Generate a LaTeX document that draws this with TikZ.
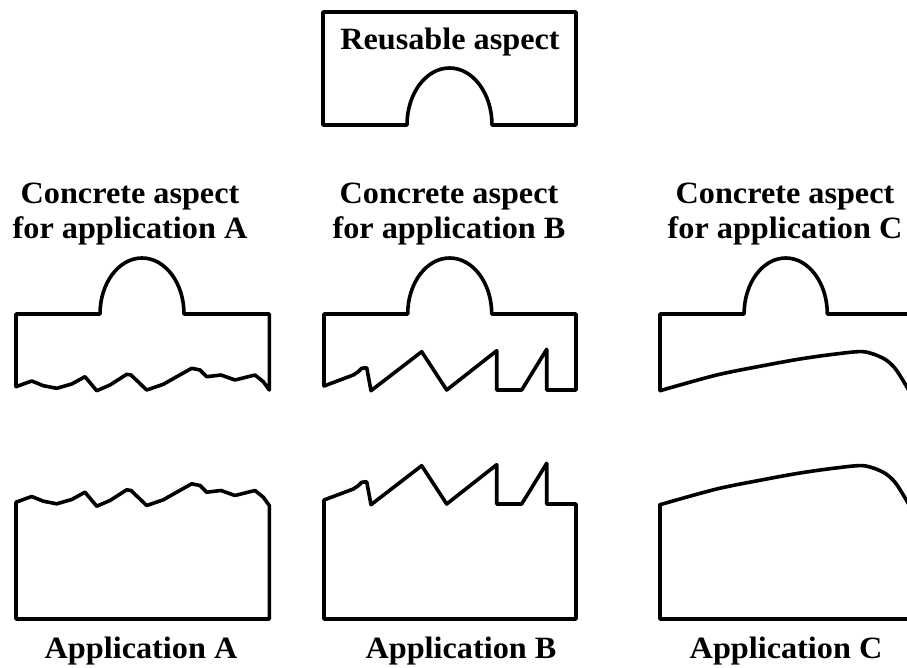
\documentclass[tikz,border=0pt]{standalone}
\usepackage{fontspec}
\setmainfont{Liberation Serif}[FakeStretch=1.04]
\tikzset{
  shape line/.style={line width=3.6pt, line join=round, line cap=round},
  lbl/.style={font=\fontsize{31}{36}\selectfont\bfseries, anchor=base, inner sep=0pt}
}
% wavy bottom edge of aspect A (argument: vertical offset)
\newcommand\wavA[1]{(16,386.7+#1) -- (31.7,381+#1) -- (43.3,385.7+#1) -- (56.7,388.3+#1) -- (71.7,384+#1) -- (85,376.7+#1) -- (96.7,390.7+#1) -- (110,385+#1) -- (126.7,374.3+#1) -- (131,375+#1) -- (146.7,390+#1) -- (163.3,384.3+#1) -- (176.7,376.7+#1) -- (191.7,368.3+#1) -- (200,370+#1) -- (206.7,376.7+#1) -- (221,375+#1) -- (235,380+#1) -- (255,375+#1) -- (263.3,381.7+#1) -- (269.3,390+#1)}
% saw-tooth bottom edge of aspect B
\newcommand\wavB[1]{(324,386+#1) -- (353.3,375+#1) -- (358.3,371.7+#1) -- (361.7,368.3+#1) -- (366.7,367.7+#1) -- (371,390.7+#1) -- (421.7,351.7+#1) -- (446.7,390+#1) -- (496.7,350.7+#1) -- (496.7,390+#1) -- (521.7,390+#1) -- (546.7,349.3+#1) -- (546.7,390+#1) -- (576,390+#1)}
% smooth bottom edge of aspect C
\newcommand\wavC[1]{(660,390.7+#1) (716.7,375+#1) (766.7,365+#1) (800,359+#1) (833.3,354.3+#1) (863.3,351.7+#1) (883.3,358.3+#1) (895,368.3+#1) (906.7,386.7+#1) (915,402+#1)}
\begin{document}
\begin{tikzpicture}[x=1pt, y=-1pt]
\useasboundingbox (0,0) rectangle (907,668);
\clip (0,0) rectangle (907,668);

% Reusable aspect
\draw[shape line] (323,12) -- (576,12) -- (576,125) -- (492,125)
  arc[start angle=0, end angle=-180, x radius=42.5, y radius=57]
  -- (323,125) -- cycle;
\node[lbl] (reuse) at (450,50) {Reusable aspect};

% Concrete aspect A
\draw[shape line] \wavA{0} -- (269.3,314) -- (184,314)
  arc[start angle=0, end angle=-180, x radius=42, y radius=56]
  -- (16,314) -- cycle;
\node[lbl] (cA1) at (130,204) {Concrete aspect};
\node[lbl] (cA2) at (130,239) {for application A};

% Concrete aspect B
\draw[shape line] \wavB{0} -- (576,314) -- (491.7,314)
  arc[start angle=0, end angle=-180, x radius=42, y radius=56]
  -- (324,314) -- cycle;
\node[lbl] (cB1) at (449,204) {Concrete aspect};
\node[lbl] (cB2) at (449,239) {for application B};

% Concrete aspect C
\draw[shape line] (930,314) -- (827.3,314)
  arc[start angle=0, end angle=-180, x radius=41.6, y radius=56]
  -- (660,314) -- (660,390.7);
\draw[shape line] plot[smooth, tension=0.5] coordinates {\wavC{0}};
\node[lbl] (cC1) at (785,204) {Concrete aspect};
\node[lbl] (cC2) at (785,239) {for application C};

% Application A
\draw[shape line] \wavA{115.5} -- (269.3,619) -- (16,619) -- cycle;
\node[lbl] (appA) at (141,658) {Application A};

% Application B
\draw[shape line] \wavB{114} -- (576,619) -- (324,619) -- cycle;
\node[lbl] (appB) at (461,658) {Application B};

% Application C
\draw[shape line] plot[smooth, tension=0.5] coordinates {\wavC{114}};
\draw[shape line] (660,504.7) -- (660,619) -- (930,619);
\node[lbl] (appC) at (786,658) {Application C};
\end{tikzpicture}
\end{document}
